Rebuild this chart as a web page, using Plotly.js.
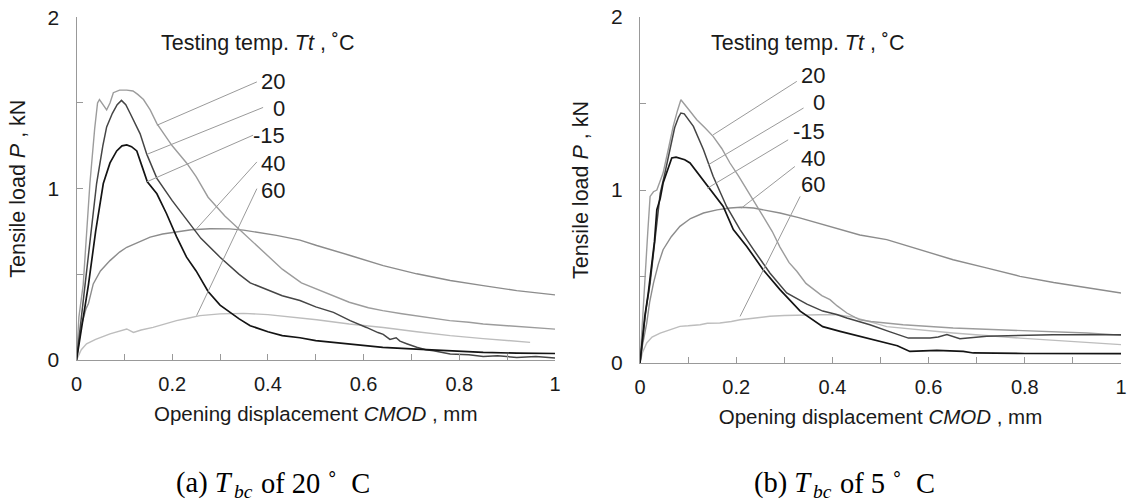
<!DOCTYPE html>
<html>
<head>
<meta charset="utf-8">
<script src="https://cdn.plot.ly/plotly-3.0.1.min.js"></script>
<style>html,body{margin:0;padding:0;background:#fff;}#chart{width:1134px;height:501px;}</style>
</head>
<body>
<div id="chart"></div>
<script>
// ---------- Data: panel (a) Tbc = 20 °C ----------
const a20x = [0,0.005,0.014,0.028,0.038,0.044,0.048,0.055,0.063,0.07,0.077,0.09,0.105,0.118,0.128,0.14,0.154,0.168,0.2,0.23,0.25,0.275,0.31,0.345,0.38,0.43,0.47,0.5,0.54,0.57,0.61,0.64,0.68,0.71,0.75,0.78,0.82,0.85,0.9,0.95,1.0];
const a20y = [0,0.25,0.44,1.03,1.35,1.5,1.52,1.49,1.46,1.5,1.56,1.575,1.575,1.57,1.55,1.52,1.46,1.38,1.25,1.15,1.07,0.95,0.84,0.75,0.66,0.53,0.45,0.415,0.37,0.337,0.305,0.288,0.27,0.259,0.245,0.23,0.22,0.21,0.2,0.19,0.18];

const a0x = [0,0.008,0.018,0.03,0.042,0.055,0.063,0.075,0.085,0.094,0.103,0.112,0.133,0.147,0.168,0.2,0.23,0.26,0.3,0.34,0.363,0.4,0.43,0.467,0.5,0.537,0.572,0.606,0.62,0.63,0.641,0.655,0.668,0.676,0.69,0.711,0.73,0.746,0.781,0.82,0.85,0.88,0.92,0.96,1.0];
const a0y = [0,0.2,0.44,0.75,1.03,1.25,1.36,1.44,1.49,1.515,1.49,1.44,1.32,1.2,1.06,0.93,0.82,0.71,0.6,0.5,0.45,0.41,0.375,0.347,0.31,0.278,0.23,0.19,0.17,0.16,0.15,0.12,0.13,0.11,0.095,0.074,0.06,0.054,0.035,0.03,0.02,0.025,0.015,0.02,0.012];

const am15x = [0,0.01,0.025,0.04,0.056,0.07,0.084,0.095,0.105,0.115,0.126,0.137,0.148,0.168,0.188,0.209,0.23,0.25,0.275,0.3,0.34,0.363,0.4,0.43,0.467,0.5,0.57,0.64,0.71,0.78,0.85,0.92,1.0];
const am15y = [0,0.18,0.44,0.75,1.03,1.15,1.22,1.25,1.255,1.245,1.22,1.13,1.04,0.97,0.855,0.72,0.6,0.52,0.4,0.32,0.24,0.2,0.165,0.142,0.13,0.113,0.094,0.074,0.064,0.054,0.045,0.04,0.038];

const a40x = [0,0.01,0.02,0.025,0.035,0.05,0.07,0.09,0.105,0.13,0.154,0.18,0.209,0.24,0.279,0.32,0.349,0.38,0.418,0.467,0.502,0.572,0.641,0.711,0.781,0.85,0.92,1.0];
const a40y = [0,0.2,0.3,0.33,0.444,0.52,0.58,0.63,0.658,0.69,0.717,0.735,0.748,0.76,0.766,0.765,0.758,0.745,0.727,0.7,0.668,0.61,0.551,0.503,0.464,0.434,0.405,0.38];

const a60x = [0,0.01,0.021,0.04,0.07,0.09,0.105,0.119,0.135,0.16,0.185,0.209,0.235,0.258,0.3,0.349,0.4,0.467,0.502,0.57,0.641,0.711,0.781,0.85,0.9,0.948];
const a60y = [0,0.06,0.094,0.12,0.152,0.17,0.181,0.161,0.175,0.19,0.21,0.23,0.245,0.259,0.269,0.272,0.265,0.245,0.235,0.21,0.19,0.165,0.142,0.125,0.113,0.103];

// ---------- Data: panel (b) Tbc = 5 °C ----------
const b20x = [0,0.005,0.01,0.016,0.021,0.028,0.035,0.042,0.048,0.06,0.069,0.078,0.085,0.1,0.118,0.135,0.152,0.17,0.187,0.205,0.222,0.24,0.256,0.275,0.291,0.31,0.326,0.345,0.36,0.378,0.395,0.41,0.43,0.457,0.48,0.547,0.651,0.79,0.929,1.0];
const b20y = [0,0.25,0.46,0.75,0.963,0.99,1.0,1.05,1.098,1.25,1.368,1.46,1.522,1.47,1.406,1.36,1.31,1.24,1.156,1.08,1.0,0.92,0.847,0.76,0.67,0.58,0.53,0.46,0.43,0.39,0.366,0.33,0.289,0.25,0.24,0.221,0.202,0.188,0.173,0.16];

const b0x = [0,0.005,0.012,0.021,0.03,0.042,0.052,0.062,0.072,0.08,0.085,0.092,0.111,0.132,0.152,0.18,0.208,0.236,0.27,0.305,0.347,0.38,0.409,0.43,0.478,0.52,0.558,0.603,0.62,0.638,0.655,0.665,0.721,0.859,1.0];
const b0y = [0,0.12,0.3,0.462,0.7,0.98,1.1,1.23,1.36,1.42,1.445,1.44,1.368,1.233,1.079,0.905,0.771,0.655,0.52,0.405,0.34,0.3,0.28,0.26,0.221,0.18,0.144,0.144,0.15,0.164,0.15,0.14,0.154,0.164,0.164];

const bm15x = [0,0.005,0.01,0.017,0.024,0.03,0.035,0.042,0.048,0.055,0.062,0.066,0.075,0.083,0.093,0.104,0.125,0.152,0.173,0.194,0.222,0.256,0.291,0.333,0.38,0.416,0.457,0.499,0.535,0.561,0.617,0.672,0.693,0.8,1.0];
const bm15y = [0,0.12,0.27,0.4,0.558,0.7,0.886,0.95,1.04,1.1,1.156,1.185,1.19,1.185,1.175,1.156,1.079,0.983,0.905,0.771,0.674,0.539,0.424,0.3,0.21,0.183,0.154,0.125,0.1,0.067,0.073,0.067,0.058,0.055,0.054];

const b40x = [0,0.005,0.014,0.02,0.028,0.038,0.048,0.065,0.083,0.105,0.132,0.16,0.187,0.21,0.236,0.26,0.291,0.33,0.374,0.42,0.457,0.513,0.58,0.651,0.72,0.79,0.86,0.929,1.0];
const b40y = [0,0.1,0.231,0.35,0.462,0.57,0.655,0.73,0.79,0.835,0.867,0.885,0.896,0.9,0.896,0.885,0.867,0.84,0.805,0.77,0.74,0.713,0.655,0.597,0.55,0.501,0.465,0.434,0.405];

const b60x = [0,0.005,0.014,0.025,0.042,0.06,0.083,0.1,0.125,0.14,0.166,0.19,0.208,0.24,0.27,0.3,0.34,0.374,0.409,0.444,0.513,0.651,0.79,0.929,1.0];
const b60y = [0,0.06,0.116,0.15,0.173,0.19,0.212,0.215,0.221,0.23,0.231,0.24,0.25,0.26,0.27,0.275,0.279,0.279,0.279,0.265,0.21,0.173,0.144,0.119,0.106];

// ---------- Labels / ticks ----------
const seriesLabels = ["20", "0", "-15", "40", "60"];
const xTickVals = [0,0.2,0.4,0.6,0.8,1];
const xTickText = ["0","0.2","0.4","0.6","0.8","1"];
const yTickVals = [0,1,2];
const yTickText = ["0","1","2"];
const legendHeader = "Testing temp. <i>Tt</i> , ˚C";
const xTitle = "Opening displacement <i>CMOD</i> , mm";
const yTitle = "Tensile load <i>P</i> , kN";
// captions split into: prefix, subscript, suffix
const captionHead = ["(a) <i>T</i>", "(b) <i>T</i>"];
const captionSub = ["<i>bc</i>", "<i>bc</i>"];
const captionTail = ["of 20 ˚&nbsp;&nbsp;C", "of 5 ˚&nbsp;&nbsp;C"];

// leader lines: [x_label_end, y_label_end, x_curve, y_curve] per series
const leadersA = [[0.377,1.623,0.168,1.37],[0.39,1.474,0.147,1.2],[0.369,1.312,0.147,1.04],[0.377,1.156,0.251,0.766],[0.377,1.0,0.251,0.259]];
const leadersB = [[0.326,1.628,0.152,1.319],[0.34,1.474,0.142,1.146],[0.308,1.29,0.14,1.01],[0.322,1.136,0.211,0.896],[0.333,0.963,0.208,0.269]];

// ---------- Styles ----------
const colors = ["#9c9c9c", "#454545", "#141414", "#8c8c8c", "#bdbdbd"];
const widths = [1.4, 1.5, 1.7, 1.4, 1.4];
const FONT = "Liberation Sans, Arial, sans-serif";
const SERIF = "Liberation Serif, Times New Roman, serif";

function tr(x, y, i, xa, ya) {
  return {x: x, y: y, type: "scatter", mode: "lines", xaxis: xa, yaxis: ya,
    name: seriesLabels[i], showlegend: false, hoverinfo: "skip",
    line: {color: colors[i], width: widths[i]}};
}

const data = [
  tr(a60x, a60y, 4, "x", "y"), tr(a40x, a40y, 3, "x", "y"), tr(a20x, a20y, 0, "x", "y"),
  tr(a0x, a0y, 1, "x", "y"), tr(am15x, am15y, 2, "x", "y"),
  tr(b60x, b60y, 4, "x2", "y2"), tr(b40x, b40y, 3, "x2", "y2"), tr(b20x, b20y, 0, "x2", "y2"),
  tr(b0x, b0y, 1, "x2", "y2"), tr(bm15x, bm15y, 2, "x2", "y2")
];

const shapes = [];
leadersA.forEach(l => shapes.push({type: "line", xref: "x", yref: "y", x0: l[0], y0: l[1], x1: l[2], y1: l[3], line: {color: "#9a9a9a", width: 1}}));
leadersB.forEach(l => shapes.push({type: "line", xref: "x2", yref: "y2", x0: l[0], y0: l[1], x1: l[2], y1: l[3], line: {color: "#9a9a9a", width: 1}}));

const annotations = [];
const labelYA = [1.623, 1.468, 1.312, 1.146, 0.99];
const labelYB = [1.661, 1.503, 1.339, 1.185, 1.031];
seriesLabels.forEach((s, i) => {
  annotations.push({xref: "x", yref: "y", x: 0.44, y: labelYA[i], text: s, showarrow: false, xanchor: "right", yanchor: "middle", font: {family: FONT, size: 22, color: "#1a1a1a"}});
  annotations.push({xref: "x2", yref: "y2", x: 0.389, y: labelYB[i], text: s, showarrow: false, xanchor: "right", yanchor: "middle", font: {family: FONT, size: 22, color: "#1a1a1a"}});
});
annotations.push({xref: "x", yref: "y", x: 0.173, y: 1.85, text: legendHeader, showarrow: false, xanchor: "left", yanchor: "middle", font: {family: FONT, size: 21.5, color: "#1a1a1a"}});
annotations.push({xref: "x2", yref: "y2", x: 0.143, y: 1.851, text: legendHeader, showarrow: false, xanchor: "left", yanchor: "middle", font: {family: FONT, size: 21.5, color: "#1a1a1a"}});

// captions: split pixel anchor points (px from left) for each panel
const capSplit = [[234, 254], [813, 833]];
const capY = 1 - 483/501, capSubY = 1 - 491/501;
[0, 1].forEach(k => {
  annotations.push({xref: "paper", yref: "paper", x: capSplit[k][0]/1134, y: capY, text: captionHead[k], showarrow: false, xanchor: "right", yanchor: "middle", borderpad: 0, font: {family: SERIF, size: 28.5, color: "#000"}});
  annotations.push({xref: "paper", yref: "paper", x: (capSplit[k][0] - 1)/1134, y: capSubY, text: captionSub[k], showarrow: false, xanchor: "left", yanchor: "middle", borderpad: 0, font: {family: SERIF, size: 19.5, color: "#000"}});
  annotations.push({xref: "paper", yref: "paper", x: (capSplit[k][1] + 6)/1134, y: capY, text: captionTail[k], showarrow: false, xanchor: "left", yanchor: "middle", borderpad: 0, font: {family: SERIF, size: 28.5, color: "#000"}});
});

function xAxis(domain, anchor) {
  return {domain: domain, anchor: anchor, range: [0, 1], tickmode: "array", tickvals: xTickVals, ticktext: xTickText,
    ticks: "inside", ticklen: 6, tickcolor: "#999", tickwidth: 1,
    minor: {tickmode: "linear", tick0: 0, dtick: 0.1, ticks: "inside", ticklen: 6, tickcolor: "#999", tickwidth: 1, showgrid: false},
    showline: true, linecolor: "#999", linewidth: 1,
    showgrid: false, zeroline: false, ticklabelstandoff: 6, tickfont: {family: FONT, size: 20, color: "#1a1a1a"},
    title: {text: xTitle, standoff: 12, font: {family: FONT, size: 20.5, color: "#1a1a1a"}}};
}
function yAxis(domain, anchor) {
  return {domain: domain, anchor: anchor, range: [0, 2], tickmode: "array", tickvals: yTickVals, ticktext: yTickText,
    ticks: "inside", ticklen: 6, tickcolor: "#999", tickwidth: 1,
    minor: {tickmode: "linear", tick0: 0, dtick: 0.5, ticks: "inside", ticklen: 6, tickcolor: "#999", tickwidth: 1, showgrid: false},
    showline: true, linecolor: "#999", linewidth: 1,
    showgrid: false, zeroline: false, ticklabelstandoff: 12, tickfont: {family: FONT, size: 21, color: "#1a1a1a"},
    title: {text: yTitle, standoff: 16, font: {family: FONT, size: 21.5, color: "#1a1a1a"}}};
}

const layout = {
  width: 1134, height: 501, margin: {l: 0, r: 0, t: 0, b: 0},
  paper_bgcolor: "#fff", plot_bgcolor: "#fff", showlegend: false,
  xaxis: xAxis([76.5/1134, 555/1134], "y"),
  yaxis: yAxis([1 - 360/501, 1 - 17.3/501], "x"),
  xaxis2: xAxis([640/1134, 1121/1134], "y2"),
  yaxis2: yAxis([1 - 363/501, 1 - 17/501], "x2"),
  shapes: shapes, annotations: annotations
};

Plotly.newPlot("chart", data, layout, {staticPlot: true});
</script>
</body>
</html>
